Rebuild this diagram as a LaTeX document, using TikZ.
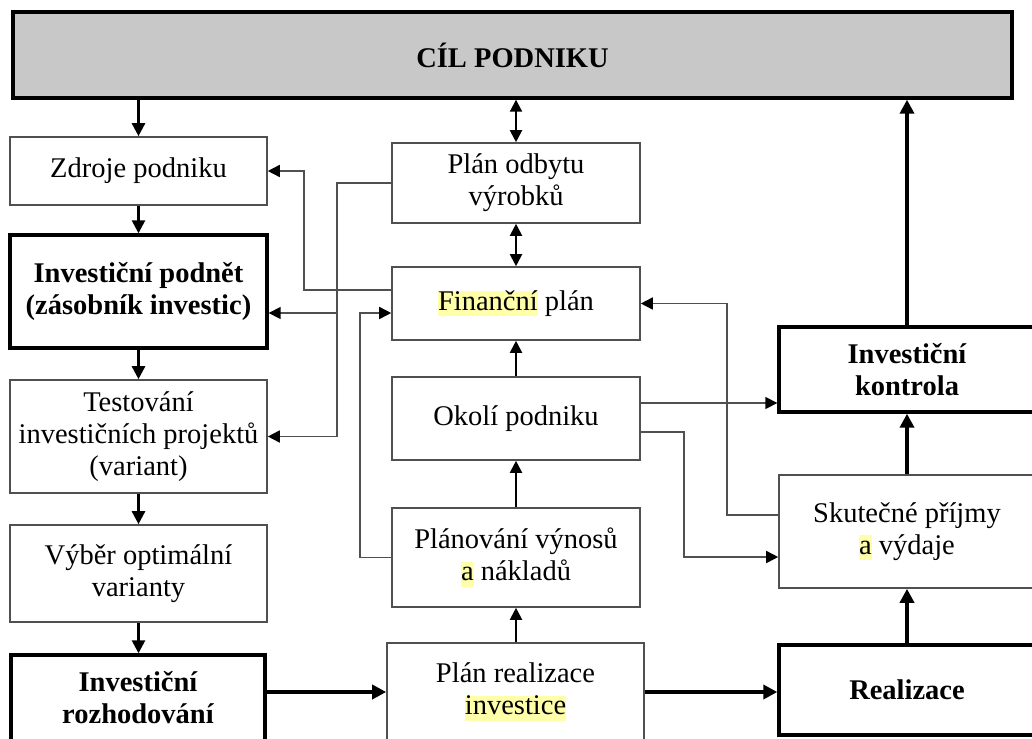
\documentclass[tikz,border=0pt]{standalone}
\usepackage{fontspec}
\setmainfont{Liberation Serif}
\usetikzlibrary{arrows.meta}
\definecolor{goalgray}{RGB}{200,200,200}
\definecolor{hlyellow}{RGB}{255,255,170}
\definecolor{linkgray}{RGB}{80,80,80}
\newcommand{\hlt}[1]{{\setlength{\fboxsep}{0pt}\colorbox{hlyellow}{\rule[-6pt]{0pt}{25pt}#1}}}

\begin{document}
\begin{tikzpicture}[
        x=1pt, y=-1pt,
        box/.style={
            rectangle,
            draw=linkgray,
            line width=1.6pt,
            fill=white,
            align=center,
            minimum width=257pt,
            font=\fontsize{28.5}{32}\selectfont,
            inner sep=2pt
        },
        boldbox/.style={
            box,
            draw=black,
            line width=3.4pt,
            font=\fontsize{28.5}{32}\selectfont\bfseries
        },
        goalbox/.style={
            boldbox,
            fill=goalgray,
            minimum width=999pt,
            minimum height=86pt
        },
        arrow/.style={-{Triangle[length=13pt,width=13pt]}, line width=2.6pt},
        midarrow/.style={-{Triangle[length=12pt,width=12pt]}, line width=2pt},
        biarrow/.style={{Triangle[length=12pt,width=12pt]}-{Triangle[length=12pt,width=12pt]}, line width=2pt},
        thickarrow/.style={-{Triangle[length=14pt,width=14pt]}, line width=3.6pt},
        link/.style={-{Triangle[length=12pt,width=12pt,black]}, draw=linkgray, line width=1.6pt}
    ]

        \useasboundingbox (0,0) rectangle (1032,738);
        \clip (0,0) rectangle (1032,738);

        % Goal
        \node[goalbox] (goal) at (512.5,55) {CÍL PODNIKU};

        % Left column
        \node[box, minimum height=68pt] (zdroje) at (138.5,171) {Zdroje podniku};
        \node[boldbox, minimum height=113pt] (podnet) at (138.5,291.5) {Investiční podnět\\(zásobník investic)};
        \node[box, minimum height=113pt] (testovani) at (138.5,436.5) {Testování\\investičních projektů\\(variant)};
        \node[box, minimum height=97pt] (vyber) at (138.5,573.5) {Výběr optimální\\varianty};
        \node[boldbox, minimum width=254pt, minimum height=86pt] (rozhodovani) at (138,698) {Investiční\\rozhodování};

        % Middle column
        \node[box, minimum width=248pt, minimum height=80pt] (odbyt) at (516,183) {Plán odbytu\\výrobků};
        \node[box, minimum width=248pt, minimum height=73pt] (financni) at (516,303.5) {\hlt{Finanční} plán};
        \node[box, minimum width=248pt, minimum height=83pt] (okoli) at (516,418.5) {Okolí podniku};
        \node[box, minimum width=248pt, minimum height=99pt] (planovani) at (516,557.5) {Plánování výnosů\\\hlt{a} nákladů};
        \node[box, minimum width=257pt, minimum height=98pt] (planreal) at (515.5,692) {Plán realizace\\\hlt{investice}};

        % Right column
        \node[boldbox, minimum width=256pt, minimum height=85pt] (kontrola) at (907,369.5) {Investiční\\kontrola};
        \node[box, minimum width=256pt, minimum height=113pt] (skutecne) at (907,531.5) {Skutečné příjmy\\\hlt{a} výdaje};
        \node[boldbox, minimum width=256pt, minimum height=90pt] (realizace) at (907,690) {Realizace};

        % Left column arrows
        \draw[arrow] (goal.south -| zdroje.north) -- (zdroje.north);
        \draw[arrow] (zdroje.south) -- (podnet.north);
        \draw[arrow] (podnet.south) -- (testovani.north);
        \draw[arrow] (testovani.south) -- (vyber.north);
        \draw[arrow] (vyber.south) -- (vyber.south |- rozhodovani.north);

        % Middle column arrows
        \draw[biarrow] (goal.south -| odbyt.north) -- (odbyt.north);
        \draw[biarrow] (odbyt.south) -- (financni.north);
        \draw[midarrow] (okoli.north) -- (financni.south);
        \draw[midarrow] (planovani.north) -- (okoli.south);
        \draw[midarrow] (planreal.north -| planovani.south) -- (planovani.south);

        % Right column arrows
        \draw[thickarrow] (kontrola.north) -- (kontrola.north |- goal.south);
        \draw[thickarrow] (skutecne.north) -- (kontrola.south);
        \draw[thickarrow] (realizace.north) -- (skutecne.south);
        \draw[thickarrow] (planreal.west -| rozhodovani.east) -- (planreal.west);
        \draw[thickarrow] (planreal.east) -- (planreal.east -| realizace.west);

        % Feedback links
        \draw[link] (odbyt.west) -- ++(-54,0) coordinate (bend) |- (testovani.east);
        \draw[link] (bend |- 0,313) -- ([yshift=-21.5pt]podnet.east);
        \draw[link, {Triangle[length=12pt,width=12pt,black]}-] (zdroje.east) -- ++(36,0) |- ([yshift=13.5pt]financni.west);
        \draw[link] (planovani.west) -- ++(-31,0) |- ([yshift=-9.5pt]financni.west);
        \draw[link] ([yshift=15.5pt]okoli.east) -- ([yshift=15.5pt]okoli.east -| kontrola.west);
        \draw[link] ([yshift=-13.5pt]okoli.east) -- ++(43,0) |- ([yshift=-25.5pt]skutecne.west);
        \draw[link] ([yshift=16.5pt]skutecne.west) -- ++(-51,0) |- (financni.east);

    \end{tikzpicture}
\end{document}
